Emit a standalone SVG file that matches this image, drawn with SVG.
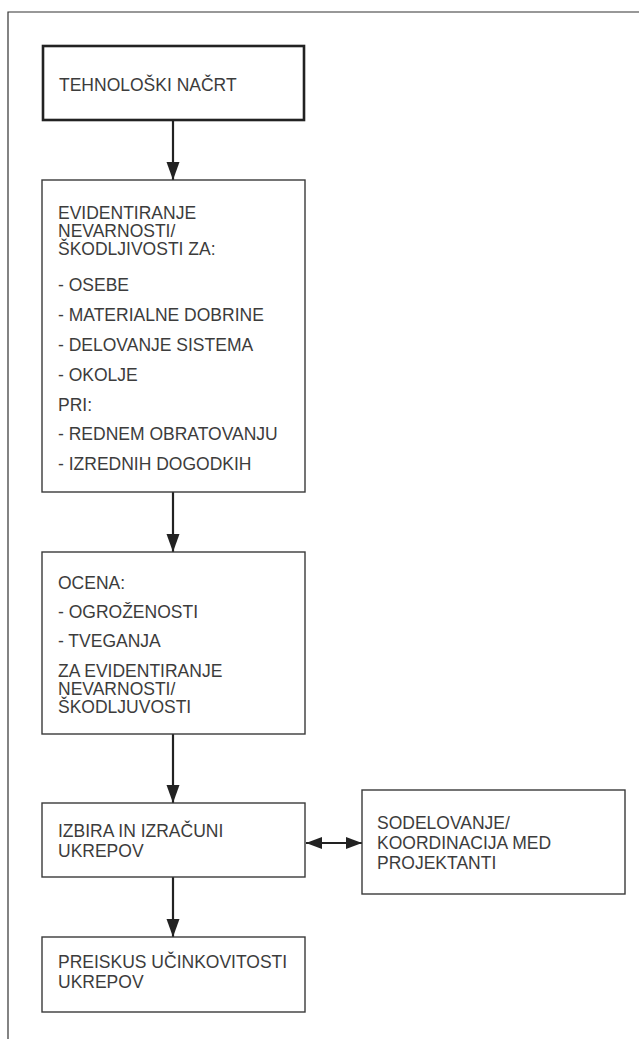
<svg xmlns="http://www.w3.org/2000/svg" width="639" height="1039" viewBox="0 0 639 1039">
<style>
.box{fill:#fff;stroke:#3a3a3a;stroke-width:1.4}
.thick{fill:#fff;stroke:#222;stroke-width:2.6}
.t{font-family:"Liberation Sans",Arial,sans-serif;font-size:17.5px;fill:#3c3c3c}
.c{stroke:#222;stroke-width:2.2;fill:none}
.frame{stroke:#333;stroke-width:1.2;fill:none}
</style>
<defs>
<marker id="ah" markerUnits="userSpaceOnUse" markerWidth="18" markerHeight="14" refX="18" refY="7" orient="auto-start-reverse">
<path d="M0,0.5 L18,7 L0,13.5 z" fill="#222"/>
</marker>
<marker id="ah2" markerUnits="userSpaceOnUse" markerWidth="16" markerHeight="13" refX="16" refY="6.5" orient="auto-start-reverse">
<path d="M0,0.5 L16,6.5 L0,12.5 z" fill="#222"/>
</marker>
</defs>
<path class="frame" d="M8,1039 V12 H639"/>
<g id="connectors">
<line class="c" x1="173" y1="120" x2="173" y2="180" marker-end="url(#ah)"/>
<line class="c" x1="173" y1="492" x2="173" y2="552" marker-end="url(#ah)"/>
<line class="c" x1="173" y1="734" x2="173" y2="803" marker-end="url(#ah)"/>
<line class="c" x1="173" y1="877" x2="173" y2="937" marker-end="url(#ah)"/>
<line class="c" x1="306" y1="843" x2="362" y2="843" marker-start="url(#ah2)" marker-end="url(#ah2)"/>
</g>
<g id="n1">
<rect class="thick" x="43" y="46" width="261" height="74"/>
<text class="t" x="59" y="91">TEHNOLOŠKI NAČRT</text>
</g>
<g id="n2">
<rect class="box" x="42" y="180" width="263" height="312"/>
<text class="t" x="58" y="219">EVIDENTIRANJE</text>
<text class="t" x="58" y="237">NEVARNOSTI/</text>
<text class="t" x="58" y="255">ŠKODLJIVOSTI ZA:</text>
<text class="t" x="58" y="291">- OSEBE</text>
<text class="t" x="58" y="321">- MATERIALNE DOBRINE</text>
<text class="t" x="58" y="351">- DELOVANJE SISTEMA</text>
<text class="t" x="58" y="381">- OKOLJE</text>
<text class="t" x="58" y="411">PRI:</text>
<text class="t" x="58" y="440">- REDNEM OBRATOVANJU</text>
<text class="t" x="58" y="470">- IZREDNIH DOGODKIH</text>
</g>
<g id="n3">
<rect class="box" x="42" y="552" width="263" height="182"/>
<text class="t" x="58" y="589">OCENA:</text>
<text class="t" x="58" y="618">- OGROŽENOSTI</text>
<text class="t" x="58" y="647">- TVEGANJA</text>
<text class="t" x="58" y="677">ZA EVIDENTIRANJE</text>
<text class="t" x="58" y="695">NEVARNOSTI/</text>
<text class="t" x="58" y="713">ŠKODLJUVOSTI</text>
</g>
<g id="n4">
<rect class="box" x="42" y="803" width="263" height="74"/>
<text class="t" x="58" y="837">IZBIRA IN IZRAČUNI</text>
<text class="t" x="58" y="857">UKREPOV</text>
</g>
<g id="n5">
<rect class="box" x="42" y="937" width="263" height="75"/>
<text class="t" x="58" y="968">PREISKUS UČINKOVITOSTI</text>
<text class="t" x="58" y="988">UKREPOV</text>
</g>
<g id="n6">
<rect class="box" x="362" y="790" width="263" height="104"/>
<text class="t" x="377" y="829">SODELOVANJE/</text>
<text class="t" x="377" y="849">KOORDINACIJA MED</text>
<text class="t" x="377" y="869">PROJEKTANTI</text>
</g>
</svg>
